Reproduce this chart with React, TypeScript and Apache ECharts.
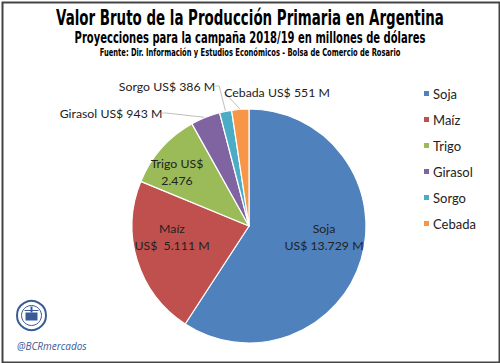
import React, { useEffect, useRef } from "react";
import * as echarts from "echarts";

const categories = ["Soja", "Maíz", "Trigo", "Girasol", "Sorgo", "Cebada"];
const values = [13729, 5111, 2476, 943, 386, 551];
const labelTexts = [
  "Soja\nUS$ 13.729 M",
  "Maíz\nUS$  5.111 M",
  "Trigo US$\n2.476",
  "Girasol US$ 943 M",
  "Sorgo US$ 386 M",
  "Cebada US$ 551 M",
];
const colors = ["#4F81BD", "#C0504D", "#9BBB59", "#8064A2", "#4BACC6", "#F79646"];
const titleText = "Valor Bruto de la Producción Primaria en Argentina";
const subtitleText = "Proyecciones para la campaña 2018/19 en millones de dólares";
const sourceText = "Fuente: Dir. Información y Estudios Económicos - Bolsa de Comercio de Rosario";
const handleText = "@BCRmercados";

// label anchor positions (label layout only)
const labelPos: Record<number, [number, number]> = {
  0: [324, 237],
  1: [172, 237],
  2: [177, 172],
  3: [111, 113],
  4: [167, 86],
  5: [277, 92],
};

const bodyFont = "Lato, 'Open Sans', sans-serif";
const condFont = "'DejaVu Sans Condensed', 'DejaVu Sans', sans-serif";

export default function App() {
  const ref = useRef<HTMLDivElement>(null);
  useEffect(() => {
    document.body.style.margin = "0";
    const chart = echarts.init(ref.current!, null, { renderer: "svg" });
    const outside = new Set([3, 4, 5]);
    const headText = (text: string, y: number, size: number, sx: number) => ({
      type: "text",
      x: 250,
      y,
      scaleX: sx,
      silent: true,
      style: {
        text,
        align: "center",
        verticalAlign: "middle",
        fontFamily: condFont,
        fontWeight: "bold",
        fontSize: size,
        fill: "#000",
      },
    });
    chart.setOption({
      animation: false,
      backgroundColor: "#ffffff",
      color: colors,
      legend: {
        orient: "vertical",
        left: 417,
        top: 82,
        itemWidth: 7,
        itemHeight: 7,
        itemGap: 13,
        icon: "rect",
        textStyle: { fontFamily: bodyFont, fontSize: 13, color: "#222", padding: [0, 0, 0, -2] },
        data: categories,
      },
      series: [
        {
          type: "pie",
          center: [249, 226],
          radius: [0, 117],
          startAngle: 90,
          clockwise: true,
          itemStyle: { borderColor: "#fff", borderWidth: 1.2 },
          data: categories.map((c, i) => ({
            name: c,
            value: values[i],
            label: {
              show: true,
              position: outside.has(i) ? "outside" : "inside",
              formatter: labelTexts[i],
              fontFamily: bodyFont,
              fontSize: 12.3,
              lineHeight: 17,
              color: "#222",
              align: "center",
            },
            labelLine: {
              show: outside.has(i),
              length: 8,
              length2: 4,
              lineStyle: { color: "#BFBFBF", width: 1 },
            },
          })),
          labelLayout: (p: any) => {
            const pos = labelPos[p.dataIndex];
            return { x: pos[0], y: pos[1], align: "center", verticalAlign: "middle" };
          },
        },
      ],
      graphic: [
        headText(titleText, 18, 21, 0.71),
        headText(subtitleText, 38, 15, 0.74),
        headText(sourceText, 52.5, 10, 0.75),
        {
          type: "rect",
          left: 0,
          top: 0,
          shape: { x: 1, y: 1, width: 497, height: 360 },
          style: { fill: "none", stroke: "#444", lineWidth: 2 },
          silent: true,
        },
        {
          type: "group",
          left: 16,
          top: 300,
          children: [
            { type: "circle", shape: { cx: 15, cy: 15, r: 14.5 }, style: { fill: "#fff", stroke: "#3A5A98", lineWidth: 2 } },
            { type: "circle", shape: { cx: 15, cy: 15, r: 10 }, style: { fill: "#fff", stroke: "#3A5A98", lineWidth: 1 } },
            { type: "rect", shape: { x: 9, y: 12, width: 12, height: 8 }, style: { fill: "#3A5A98" } },
            { type: "rect", shape: { x: 14, y: 6, width: 2, height: 6 }, style: { fill: "#3A5A98" } },
            { type: "line", shape: { x1: 8, y1: 10, x2: 22, y2: 10 }, style: { stroke: "#3A5A98", lineWidth: 1 } },
          ],
        },
        {
          type: "text",
          left: 17,
          top: 341,
          style: {
            text: handleText,
            fontFamily: "'Open Sans', sans-serif",
            fontStyle: "italic",
            fontSize: 10,
            fill: "#3A5A98",
          },
        },
      ],
    });
    return () => chart.dispose();
  }, []);
  return <div ref={ref} style={{ position: "absolute", left: 0, top: 0, width: 500, height: 363 }} />;
}
